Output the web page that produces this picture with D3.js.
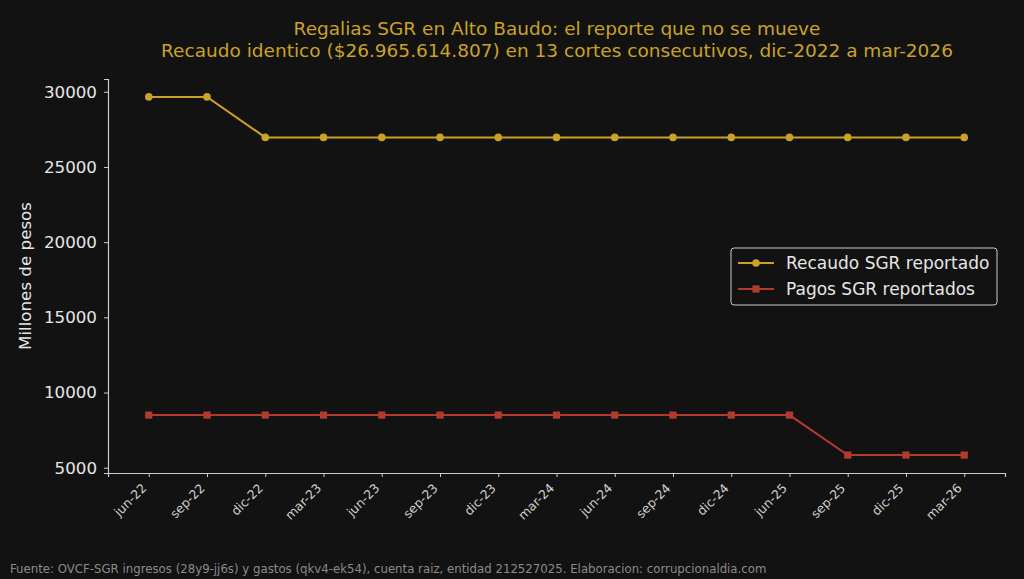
<!DOCTYPE html>
<html>
<head>
<meta charset="utf-8">
<script src="https://cdn.jsdelivr.net/npm/d3@7"></script>
<style>
  html, body { margin: 0; padding: 0; background: #121212; }
  svg { display: block; font-family: "DejaVu Sans", sans-serif; }
</style>
</head>
<body>
<div id="chart"></div>
<script>
const cortes = ['jun-22', 'sep-22', 'dic-22', 'mar-23', 'jun-23', 'sep-23', 'dic-23', 'mar-24',
  'jun-24', 'sep-24', 'dic-24', 'jun-25', 'sep-25', 'dic-25', 'mar-26'];
const recaudo = [29660, 29660, 26966, 26966, 26966, 26966, 26966, 26966,
  26966, 26966, 26966, 26966, 26966, 26966, 26966];
const pagos = [8500, 8500, 8500, 8500, 8500, 8500, 8500, 8500,
  8500, 8500, 8500, 8500, 5840, 5840, 5840];
const yTicks = [5000, 10000, 15000, 20000, 25000, 30000];

const width = 1024;
const height = 579;
const margin = { top: 79, right: 19, bottom: 106, left: 108 };

const gold = '#c9a227';
const red = '#b23a2e';
const textCol = '#e6e6e6';

const svg = d3.select('#chart')
  .append('svg')
  .attr('width', width)
  .attr('height', height);

svg.append('rect').attr('width', width).attr('height', height).attr('fill', '#121212');

// x: 5% de margen a cada lado, como matplotlib
const n = cortes.length;
const x = d3.scaleLinear()
  .domain([-0.05 * (n - 1), (n - 1) * 1.05])
  .range([margin.left, width - margin.right]);

const allVals = recaudo.concat(pagos);
const lo = d3.min(allVals), hi = d3.max(allVals);
const pad = (hi - lo) * 0.05;
const y = d3.scaleLinear()
  .domain([lo - pad, hi + pad])
  .range([height - margin.bottom, margin.top]);

// eje y
const yAxis = svg.append('g')
  .attr('transform', `translate(${margin.left},0)`)
  .call(d3.axisLeft(y).tickValues(yTicks).tickFormat(d3.format('d')).tickSize(4).tickPadding(7));
yAxis.select('.domain').attr('stroke', '#cccccc').attr('stroke-width', 1.2);
yAxis.selectAll('.tick line').attr('stroke', '#cccccc');
yAxis.selectAll('.tick text')
  .attr('fill', textCol)
  .style('font-size', '16.7px')
  .style('font-family', '"DejaVu Sans", sans-serif');

// eje x
const xAxis = svg.append('g')
  .attr('transform', `translate(0,${height - margin.bottom})`)
  .call(d3.axisBottom(x).tickValues(d3.range(n)).tickFormat(i => cortes[i]).tickSize(4));
xAxis.select('.domain').attr('stroke', '#cccccc').attr('stroke-width', 1.2);
xAxis.selectAll('.tick line').attr('stroke', '#cccccc');
xAxis.selectAll('.tick text')
  .attr('fill', '#cfcfcf')
  .style('font-size', '12.5px')
  .style('font-family', '"DejaVu Sans", sans-serif')
  .attr('text-anchor', 'end')
  .attr('x', -2)
  .attr('y', 16)
  .attr('dy', 0)
  .attr('transform', 'rotate(-45,-2,16)');

// etiqueta y
svg.append('text')
  .attr('transform', `translate(31,${(margin.top + height - margin.bottom) / 2}) rotate(-90)`)
  .attr('text-anchor', 'middle')
  .attr('fill', textCol)
  .style('font-size', '16.7px')
  .text('Millones de pesos');

// lineas
const line = d3.line()
  .x((d, i) => x(i))
  .y(d => y(d));

svg.append('path')
  .datum(recaudo)
  .attr('d', line)
  .attr('fill', 'none')
  .attr('stroke', gold)
  .attr('stroke-width', 2);

svg.selectAll('circle.rec')
  .data(recaudo)
  .join('circle')
  .attr('class', 'rec')
  .attr('cx', (d, i) => x(i))
  .attr('cy', d => y(d))
  .attr('r', 3.8)
  .attr('fill', gold);

svg.append('path')
  .datum(pagos)
  .attr('d', line)
  .attr('fill', 'none')
  .attr('stroke', red)
  .attr('stroke-width', 2);

svg.selectAll('rect.pag')
  .data(pagos)
  .join('rect')
  .attr('class', 'pag')
  .attr('x', (d, i) => x(i) - 3.6)
  .attr('y', d => y(d) - 3.6)
  .attr('width', 7.2)
  .attr('height', 7.2)
  .attr('fill', red);

// titulo
svg.append('text')
  .attr('x', 557)
  .attr('y', 34.5)
  .attr('text-anchor', 'middle')
  .attr('fill', gold)
  .style('font-size', '18.5px')
  .text('Regalias SGR en Alto Baudo: el reporte que no se mueve');
svg.append('text')
  .attr('x', 557)
  .attr('y', 56.5)
  .attr('text-anchor', 'middle')
  .attr('fill', gold)
  .style('font-size', '18.5px')
  .text('Recaudo identico ($26.965.614.807) en 13 cortes consecutivos, dic-2022 a mar-2026');

// leyenda
const leg = svg.append('g').attr('transform', 'translate(731,248)');
leg.append('rect')
  .attr('width', 266)
  .attr('height', 57)
  .attr('rx', 3)
  .attr('fill', '#121212')
  .attr('stroke', '#cccccc')
  .attr('stroke-width', 1);

const legItems = [
  { label: 'Recaudo SGR reportado', color: gold, marker: 'circle' },
  { label: 'Pagos SGR reportados', color: red, marker: 'square' }
];
legItems.forEach((it, i) => {
  const g = leg.append('g').attr('transform', `translate(0,${15 + i * 26})`);
  g.append('line').attr('x1', 7).attr('x2', 43).attr('y1', 0).attr('y2', 0)
    .attr('stroke', it.color).attr('stroke-width', 2);
  if (it.marker === 'circle') {
    g.append('circle').attr('cx', 25).attr('cy', 0).attr('r', 3.8).attr('fill', it.color);
  } else {
    g.append('rect').attr('x', 21.4).attr('y', -3.6).attr('width', 7.2).attr('height', 7.2).attr('fill', it.color);
  }
  g.append('text')
    .attr('x', 55)
    .attr('y', 0)
    .attr('dy', '0.35em')
    .attr('fill', textCol)
    .style('font-size', '17px')
    .text(it.label);
});

// fuente
svg.append('text')
  .attr('x', 10)
  .attr('y', 573)
  .attr('fill', '#8a8a8a')
  .style('font-size', '11.75px')
  .text('Fuente: OVCF-SGR ingresos (28y9-jj6s) y gastos (qkv4-ek54), cuenta raiz, entidad 212527025. Elaboracion: corrupcionaldia.com');
</script>
</body>
</html>
